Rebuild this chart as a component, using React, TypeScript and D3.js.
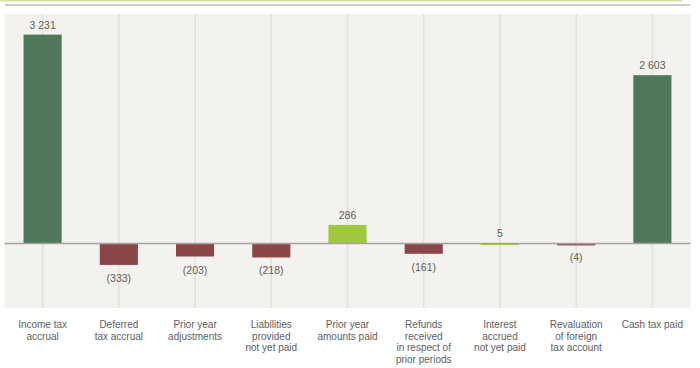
import React, { useEffect, useRef } from 'react';
import * as d3 from 'd3';

// categories (multi-line labels) and values
const categories: string[][] = [
  ['Income tax', 'accrual'],
  ['Deferred', 'tax accrual'],
  ['Prior year', 'adjustments'],
  ['Liabilities', 'provided', 'not yet paid'],
  ['Prior year', 'amounts paid'],
  ['Refunds', 'received', 'in respect of', 'prior periods'],
  ['Interest', 'accrued', 'not yet paid'],
  ['Revaluation', 'of foreign', 'tax account'],
  ['Cash tax paid'],
];
const values: number[] = [3231, -333, -203, -218, 286, -161, 5, -4, 2603];
const kinds: string[] = ['total', 'delta', 'delta', 'delta', 'delta', 'delta', 'delta', 'delta', 'total'];

const W = 700;
const H = 368;

const fmt = (v: number) => {
  const s = d3.format(',')(Math.abs(v)).replace(/,/g, ' ');
  return v < 0 ? `(${s})` : s;
};

const App = () => {
  const ref = useRef<SVGSVGElement>(null);

  useEffect(() => {
    const svg = d3.select(ref.current);
    svg.selectAll('*').remove();

    const plot = { left: 4.5, right: 690.5, top: 14, bottom: 308 };

    const x = d3.scaleBand<number>()
      .domain(values.map((_, i) => i))
      .range([plot.left, plot.right])
      .paddingInner(0.5)
      .paddingOuter(0.25);

    const y = d3.scaleLinear().domain([-1000, 3550]).range([plot.bottom, plot.top]);

    const color = (v: number, k: string) =>
      k === 'total' ? '#4f775a' : v >= 0 ? '#9fc83f' : '#8b4748';

    // top rules
    svg.append('line').attr('x1', 0).attr('x2', 682).attr('y1', 0.5).attr('y2', 0.5)
      .attr('stroke', '#d3df9c').attr('stroke-width', 2);
    svg.append('line').attr('x1', 5).attr('x2', 690).attr('y1', 5).attr('y2', 5)
      .attr('stroke', '#9a9a9a').attr('stroke-width', 1);

    // background
    svg.append('rect')
      .attr('x', plot.left).attr('y', plot.top)
      .attr('width', plot.right - plot.left).attr('height', plot.bottom - plot.top)
      .attr('fill', '#f3f2ee');

    // vertical grid
    svg.append('g').selectAll('line')
      .data(values.map((_, i) => i))
      .join('line')
        .attr('x1', d => x(d)! + x.bandwidth() / 2)
        .attr('x2', d => x(d)! + x.bandwidth() / 2)
        .attr('y1', plot.top).attr('y2', plot.bottom)
        .attr('stroke', '#e2e0da').attr('stroke-width', 1.5);

    // bars
    svg.append('g').selectAll('rect')
      .data(values)
      .join('rect')
        .attr('x', (d, i) => x(i)!)
        .attr('width', x.bandwidth())
        .attr('y', d => y(Math.max(0, d)))
        .attr('height', d => Math.max(2, Math.abs(y(d) - y(0))))
        .attr('fill', (d, i) => color(d, kinds[i]));

    // zero line
    svg.append('line')
      .attr('x1', plot.left).attr('x2', plot.right)
      .attr('y1', y(0)).attr('y2', y(0))
      .attr('stroke', '#a3a3a3').attr('stroke-width', 1.5);

    const font = 'Liberation Sans, Arial, sans-serif';

    // value labels
    svg.append('g').selectAll('text')
      .data(values)
      .join('text')
        .attr('x', (d, i) => x(i)! + x.bandwidth() / 2)
        .attr('y', d => d >= 0 ? y(d) - 6 : y(d) + 17)
        .attr('text-anchor', 'middle')
        .attr('font-family', font)
        .attr('font-size', 10.5)
        .attr('fill', '#606060')
        .text(d => fmt(d));

    // category labels
    const cat = svg.append('g').selectAll('text')
      .data(categories)
      .join('text')
        .attr('x', (d, i) => x(i)! + x.bandwidth() / 2)
        .attr('y', 328)
        .attr('text-anchor', 'middle')
        .attr('font-family', font)
        .attr('font-size', 10)
        .attr('fill', '#606060');
    cat.selectAll('tspan')
      .data(d => d.map((line, j) => ({ line, j })))
      .join('tspan')
        .attr('x', function () { return (this.parentNode as SVGTextElement).getAttribute('x'); })
        .attr('dy', d => d.j === 0 ? 0 : 11.7)
        .text(d => d.line);
  }, []);

  return (
    <svg ref={ref} width={W} height={H}
      style={{ position: 'absolute', left: 0, top: 0, background: '#fff' }} />
  );
};

export default App;
